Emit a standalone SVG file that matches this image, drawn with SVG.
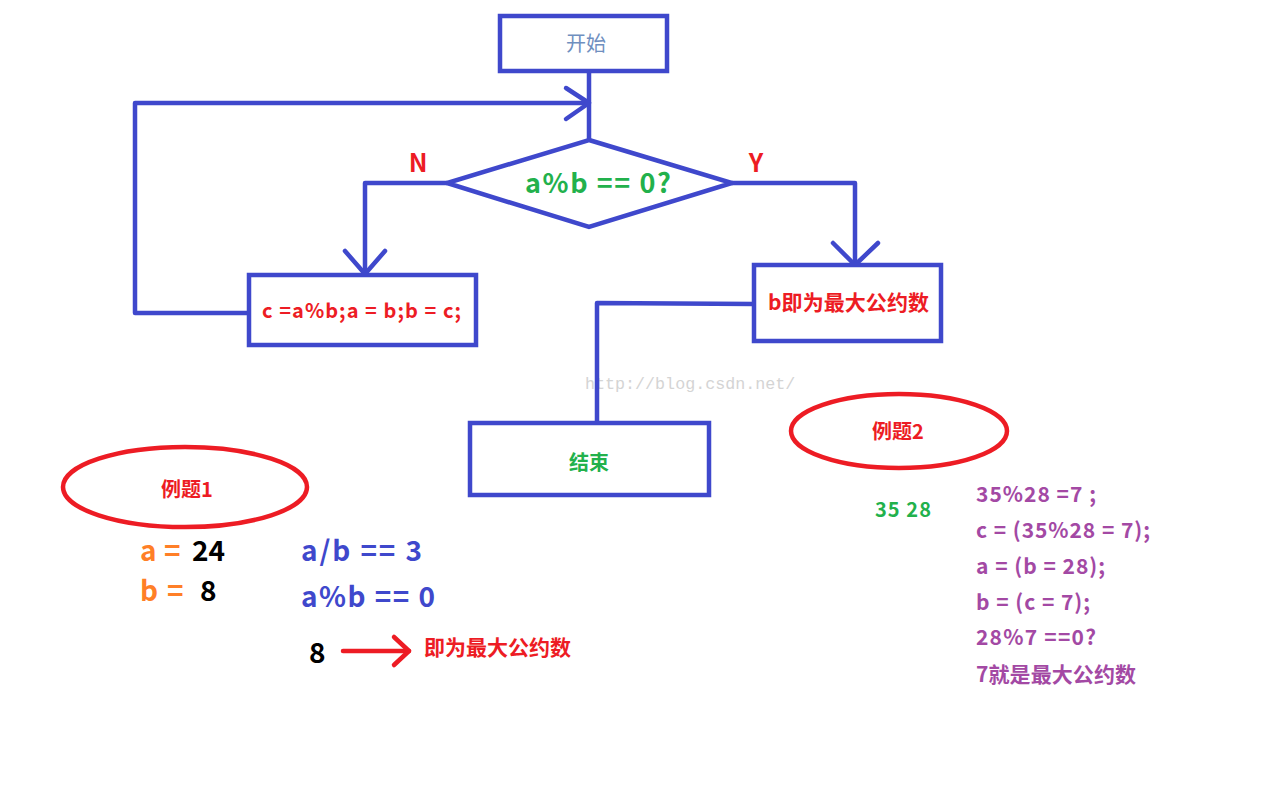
<svg xmlns="http://www.w3.org/2000/svg" width="1264" height="788" viewBox="0 0 1264 788">
<style>
.box{fill:#fff;stroke:#3F48CC;stroke-width:4.5}
.ln{fill:none;stroke:#3F48CC;stroke-width:4.5;stroke-linecap:round;stroke-linejoin:round}
.ell{fill:none;stroke:#ED1C24;stroke-width:4.5}
text{font-family:"Noto Sans CJK SC","Open Sans",sans-serif;font-weight:bold}
.red{fill:#ED1C24}
.pur{fill:#A349A4;font-size:21px}
</style>
<rect width="1264" height="788" fill="#fff"/>
<text x="585" y="389" style="font-family:'Liberation Mono',monospace;font-weight:normal;font-size:16.7px;fill:#d4d4d4">http://blog.csdn.net/</text>
<g id="connectors">
<polyline class="ln" points="589,71 589,140"/>
<polyline class="ln" points="249,313 135,313 135,103 589,103"/>
<polyline class="ln" points="566,88 589,103 566,119"/>
<polyline class="ln" points="447,183 365,183 365,274"/>
<polyline class="ln" points="345,251 365,274 385,251"/>
<polyline class="ln" points="732,183 855,183 855,265"/>
<polyline class="ln" points="833,243 855,265 878,243"/>
<polyline class="ln" points="754,304 597,303 597,423"/>
</g>
<g id="start"><rect class="box" x="500" y="16" width="167" height="55"/><text x="586" y="51" text-anchor="middle" font-size="20" style="fill:#6F8FBF;font-weight:normal">开始</text></g>
<g id="decision"><polygon class="box" points="589,140 732,183 589,227 447,183"/><text x="525" y="193" textLength="146" lengthAdjust="spacing" font-size="27" fill="#22B14C">a%b == 0?</text></g>
<g id="labelN"><text x="418" y="172" text-anchor="middle" font-size="25" class="red">N</text></g>
<g id="labelY"><text x="756" y="172" text-anchor="middle" font-size="25" class="red">Y</text></g>
<g id="swap"><rect class="box" x="249" y="275" width="227" height="70"/><text x="262" y="318" textLength="199" lengthAdjust="spacing" font-size="20" class="red">c =a%b;a = b;b = c;</text></g>
<g id="result"><rect class="box" x="754" y="265" width="187" height="76"/><text x="768" y="310" textLength="161" font-size="21" class="red">b即为最大公约数</text></g>
<g id="end"><rect class="box" x="470" y="423" width="239" height="72"/><text x="589" y="470" text-anchor="middle" font-size="20" fill="#22B14C">结束</text></g>
<g id="example1"><ellipse class="ell" cx="185" cy="487" rx="122" ry="40"/><text x="187" y="497" text-anchor="middle" font-size="20" class="red">例题1</text></g>
<g id="example2"><ellipse class="ell" cx="899" cy="431" rx="108" ry="37"/><text x="898" y="439" text-anchor="middle" font-size="20" class="red">例题2</text></g>
<g id="ex1text">
<text x="140" y="561" font-size="28"><tspan fill="#FF7F27">a</tspan><tspan x="164" fill="#FF7F27">=</tspan><tspan x="192" fill="#000">24</tspan></text>
<text x="140" y="601" font-size="28"><tspan fill="#FF7F27">b</tspan><tspan x="167" fill="#FF7F27">=</tspan><tspan x="200" fill="#000">8</tspan></text>
<text x="301" y="561" textLength="121" lengthAdjust="spacing" font-size="28" fill="#3F48CC">a/b == 3</text>
<text x="301" y="607" textLength="134" lengthAdjust="spacing" font-size="28" fill="#3F48CC">a%b == 0</text>
<text x="309" y="663" font-size="28" fill="#000">8</text>
<polyline points="343,651 409,651" fill="none" stroke="#ED1C24" stroke-width="4.5" stroke-linecap="round"/>
<polyline points="394,637 409,651 394,665" fill="none" stroke="#ED1C24" stroke-width="4.5" stroke-linecap="round" stroke-linejoin="round"/>
<text x="424" y="655" textLength="147" font-size="21" class="red">即为最大公约数</text>
</g>
<g id="ex2text">
<text x="875" y="517" textLength="56" font-size="20" fill="#22B14C">35 28</text>
<text x="976" y="502" textLength="120" lengthAdjust="spacing" class="pur">35%28 =7 ;</text>
<text x="976" y="538" textLength="174" lengthAdjust="spacing" class="pur">c = (35%28 = 7);</text>
<text x="976" y="574" textLength="129" lengthAdjust="spacing" class="pur">a = (b = 28);</text>
<text x="976" y="610" textLength="114" lengthAdjust="spacing" class="pur">b = (c = 7);</text>
<text x="976" y="645" textLength="120" lengthAdjust="spacing" class="pur">28%7 ==0?</text>
<text x="976" y="682" textLength="160" class="pur">7就是最大公约数</text>
</g>
</svg>
